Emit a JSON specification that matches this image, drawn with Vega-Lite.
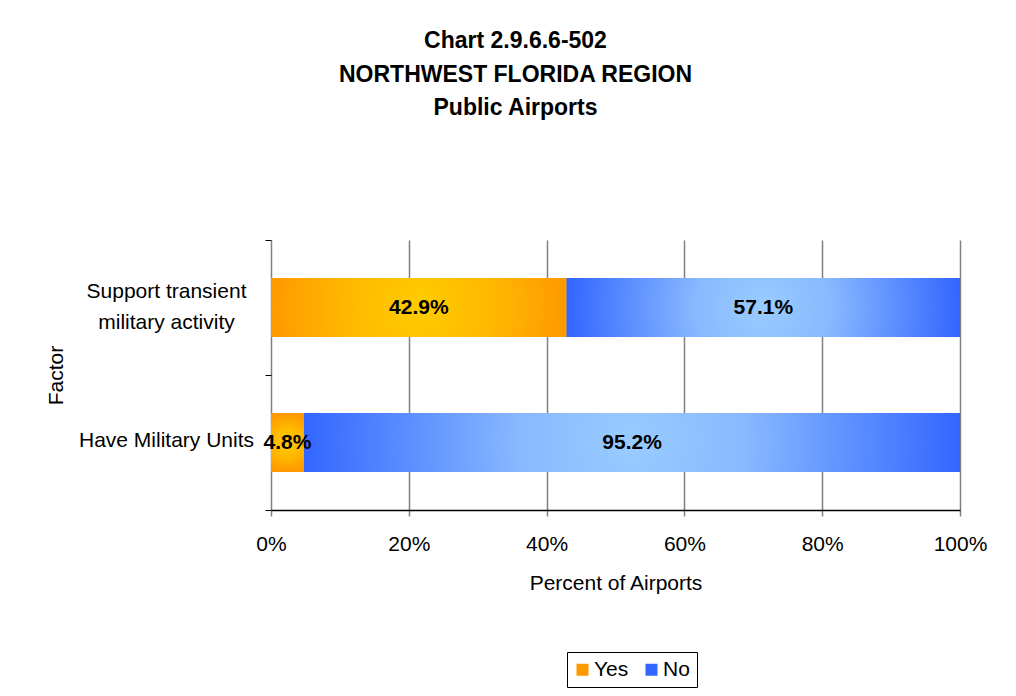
{
  "$schema": "https://vega.github.io/schema/vega-lite/v6.json",
  "width": 689,
  "height": 270,
  "autosize": {"type": "none"},
  "padding": {"left": 271, "top": 240, "right": 56, "bottom": 186},
  "background": "white",
  "config": {"font": "Liberation Sans", "view": {"stroke": null}},
  "title": {
    "text": ["Chart 2.9.6.6-502", "NORTHWEST FLORIDA REGION", "Public Airports"],
    "fontSize": 23,
    "fontWeight": "bold",
    "font": "Liberation Sans",
    "lineHeight": 33.5,
    "anchor": "middle",
    "dx": -100,
    "offset": 109,
    "color": "black"
  },
  "data": {
    "values": [
      {"Factor": "Support transient military activity", "answer": "Yes", "value": 0.429},
      {"Factor": "Support transient military activity", "answer": "No", "value": 0.571},
      {"Factor": "Have Military Units", "answer": "Yes", "value": 0.048},
      {"Factor": "Have Military Units", "answer": "No", "value": 0.952}
    ]
  },
  "encoding": {
    "y": {
      "field": "Factor",
      "type": "nominal",
      "sort": ["Support transient military activity", "Have Military Units"],
      "scale": {"paddingInner": 0, "paddingOuter": 0},
      "axis": {
        "title": "Factor",
        "titleFontSize": 21,
        "titleFontWeight": "normal",
        "titleColor": "black",
        "titlePadding": 12,
        "labelFontSize": 21,
        "labelColor": "black",
        "labelAlign": "center",
        "labelPadding": 99,
        "labelLineHeight": 31,
        "labelLimit": 0,
        "labelOffset": {"condition": {"test": "datum.value == 'Support transient military activity'", "value": -16}, "value": -2},
        "labelExpr": "datum.label == 'Support transient military activity' ? ['Support transient', 'military activity'] : datum.label",
        "tickBand": "extent",
        "tickColor": "black",
        "tickSize": 6,
        "domain": false,
        "grid": false
      }
    }
  },
  "layer": [
    {
      "mark": {"type": "bar", "height": {"band": 0.437}},
      "encoding": {
        "x": {
          "field": "value",
          "type": "quantitative",
          "stack": "zero",
          "scale": {"domain": [0, 1]},
          "axis": {
            "title": "Percent of Airports",
            "format": ".0%",
            "values": [0, 0.2, 0.4, 0.6, 0.8, 1],
            "labelFlush": false,
            "labelFontSize": 21,
            "labelColor": "black",
            "labelPadding": 17,
            "titleFontSize": 21,
            "titleFontWeight": "normal",
            "titleColor": "black",
            "titlePadding": 18,
            "domainColor": "black",
            "domainWidth": 1.5,
            "tickColor": "#808080",
            "tickSize": 6,
            "tickWidth": 1.5,
            "grid": true,
            "gridColor": "#808080",
            "gridWidth": 1.5
          }
        },
        "color": {
          "field": "answer",
          "type": "nominal",
          "scale": {"domain": ["Yes", "No"], "range": ["#FF9900", "#3366FF"]},
          "legend": {
            "orient": "none",
            "legendX": 296,
            "legendY": 412,
            "direction": "horizontal",
            "title": null,
            "symbolType": "square",
            "symbolSize": 144,
            "symbolStrokeWidth": 0,
            "symbolOffset": -2,
            "labelFontSize": 21,
            "labelColor": "black",
            "labelOffset": 1,
            "columnPadding": 14,
            "strokeColor": "black",
            "fillColor": "white",
            "padding": 7
          }
        },
        "order": {"field": "answer", "sort": "descending"}
      }
    },
    {
      "mark": {"type": "bar", "height": {"band": 0.437}},
      "encoding": {
        "x": {"field": "value", "type": "quantitative", "stack": "zero"},
        "detail": {"field": "answer"},
        "order": {"field": "answer", "sort": "descending"},
        "fill": {
          "condition": {
            "test": "datum.answer == 'Yes'",
            "value": {
              "gradient": "radial",
              "x1": 0.5, "y1": 0.5, "r1": 0,
              "x2": 0.5, "y2": 0.5, "r2": 0.5,
              "stops": [
                {"offset": 0, "color": "#FFCC00"},
                {"offset": 0.5, "color": "#FFB800"},
                {"offset": 1, "color": "#FF9900"}
              ]
            }
          },
          "value": {
            "gradient": "radial",
            "x1": 0.5, "y1": 0.5, "r1": 0,
            "x2": 0.5, "y2": 0.5, "r2": 0.5,
            "stops": [
              {"offset": 0, "color": "#99CCFF"},
              {"offset": 0.35, "color": "#88B8FF"},
              {"offset": 1, "color": "#3366FF"}
            ]
          }
        }
      }
    },
    {
      "transform": [
        {"stack": "value", "groupby": ["Factor"], "sort": [{"field": "answer", "order": "descending"}], "as": ["v0", "v1"]},
        {"fold": ["v0", "v1"], "as": ["edge", "pos"]},
        {"aggregate": [{"op": "mean", "field": "pos", "as": "mid"}], "groupby": ["Factor", "answer", "value"]}
      ],
      "mark": {"type": "text", "fontSize": 21, "fontWeight": "bold", "color": "black", "font": "Liberation Sans"},
      "encoding": {
        "x": {"field": "mid", "type": "quantitative"},
        "text": {"field": "value", "type": "quantitative", "format": ".1%"}
      }
    }
  ]
}
